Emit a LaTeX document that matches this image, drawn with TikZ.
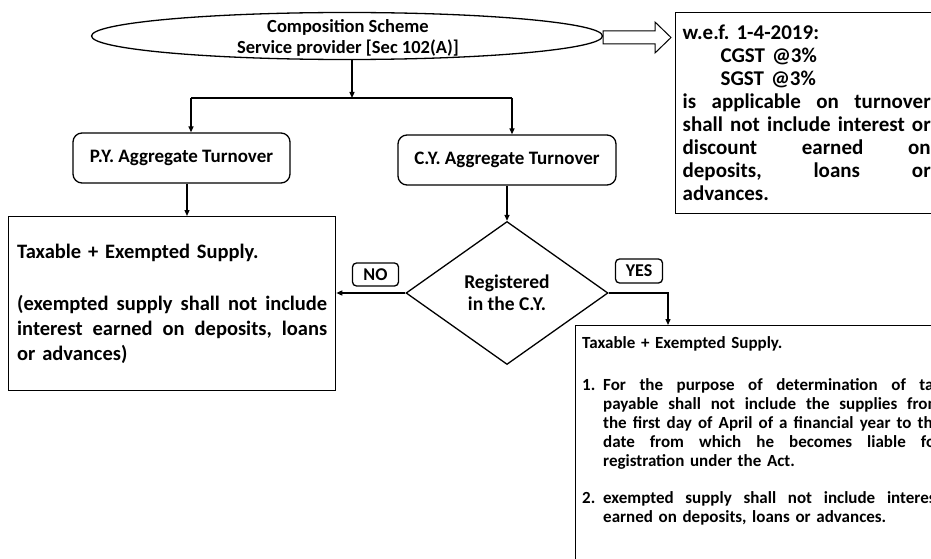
\documentclass[tikz,border=0pt]{standalone}
\usepackage{fontspec}
\setmainfont{Carlito}
\usetikzlibrary{shapes.geometric,arrows.meta}
\frenchspacing
\newcommand{\jline}[2]{\leavevmode\hbox to #1{\spaceskip=0.1em plus 1fil\relax #2}}
\begin{document}
\begin{tikzpicture}[x=1pt,y=-1pt,
  lw/.style={line width=1.3pt},
  arr/.style={lw, draw=black, -{Triangle[length=6pt,width=5pt]}},
  rbox/.style={draw, lw, rounded corners=9pt, inner sep=0pt, align=center},
  sqbox/.style={draw, lw, inner sep=0pt},
  f19/.style={font=\bfseries\fontsize{19}{22}\selectfont},
  lbl/.style={draw, lw, rounded corners=4pt, inner sep=0pt, font=\bfseries\fontsize{18}{20}\selectfont}
]
\useasboundingbox (0,0) rectangle (931,559);

% top ellipse
\node[ellipse, draw, lw, minimum width=511pt, minimum height=47pt, inner sep=0pt, align=center] (ell) at (347,36) {};
\node[align=center, inner sep=0pt, font=\bfseries\fontsize{18.5}{21}\selectfont] (elltxt) at (348,38)
  {Composition Scheme\\Service provider [Sec 102(A)]};

% note box top right
\node[sqbox, anchor=north west, align=left, text width=248pt, inner xsep=7pt, minimum height=201pt,
      font=\bfseries\fontsize{21}{23}\selectfont] (note) at (675,12)
  {w.e.f. 1-4-2019:\\
   \hspace*{38pt}CGST @3\%\\
   \hspace*{38pt}SGST @3\%\\
   \jline{248pt}{is applicable on turnover}\\
   \jline{248pt}{shall not include interest or}\\
   \jline{248pt}{discount earned on}\\
   \jline{248pt}{deposits, loans or}\\
   advances.};

% hollow double arrow from ellipse to note
\draw[line width=1pt, line join=miter] (603,31) -- (655,31) -- (655,22) -- (671,37.5) -- (655,53) -- (655,44) -- (603,44) -- cycle;

% PY and CY boxes
\node[rbox, minimum width=217pt, minimum height=50pt, f19] (py) at (181.5,158) {P.Y. Aggregate Turnover};
\node[rbox, minimum width=218pt, minimum height=50pt, f19] (cy) at (507,160) {C.Y. Aggregate Turnover};

% split
\coordinate (split) at (352,98);
\coordinate (bl) at (191,98);
\coordinate (br) at (512,98);
\draw[arr] (split |- ell.south) -- (split);
\draw[lw] (bl) -- (br);
\draw[arr] (bl) -- (bl |- py.north);
\draw[arr] (br) -- (br |- cy.north);

% left box
\node[sqbox, anchor=north west, align=left, text width=310pt, inner xsep=8.5pt, minimum height=174pt,
      font=\bfseries\fontsize{20.5}{25}\selectfont] (left) at (8,216)
  {Taxable + Exempted Supply.\\[27pt]
   \jline{310pt}{(exempted supply shall not include}\\
   \jline{310pt}{interest earned on deposits, loans}\\
   or advances)};

\coordinate (pyx) at (187,0);
\draw[arr] (pyx |- py.south) -- (pyx |- left.north);

% diamond
\node[diamond, draw, lw, minimum width=202pt, minimum height=143pt, inner sep=0pt, align=center,
      font=\bfseries\fontsize{19.5}{22}\selectfont] (dia) at (507,293) {Registered\\in the C.Y.};
\draw[arr] (cy.south) -- (dia.north);

% NO branch
\draw[arr] (dia.west) -- (dia.west -| left.east);
\node[lbl, minimum width=46pt, minimum height=23pt] (no) at (375.5,274.5) {NO};

% right bottom box
\node[sqbox, anchor=north west, minimum width=380pt, minimum height=260pt] (rb) at (575,325) {};
\node[anchor=north west, inner sep=0pt, align=left, text width=359pt,
      font=\bfseries\fontsize{17}{19}\selectfont] (rbt) at (582,336)
  {Taxable + Exempted Supply.\\[23pt]
   \makebox[21pt][l]{1.}\jline{338pt}{For the purpose of determination of tax}\\
   \hspace*{21pt}\jline{338pt}{payable shall not include the supplies from}\\
   \hspace*{21pt}\jline{338pt}{the first day of April of a financial year to the}\\
   \hspace*{21pt}\jline{338pt}{date from which he becomes liable for}\\
   \hspace*{21pt}registration under the Act.\\[18pt]
   \makebox[21pt][l]{2.}\jline{338pt}{exempted supply shall not include interest}\\
   \hspace*{21pt}earned on deposits, loans or advances.};

% YES branch
\coordinate (yx) at (668,0);
\draw[arr] (dia.east) -| (yx |- rb.north);
\node[lbl, minimum width=47pt, minimum height=24pt] (yes) at (639,271) {YES};

\end{tikzpicture}
\end{document}
